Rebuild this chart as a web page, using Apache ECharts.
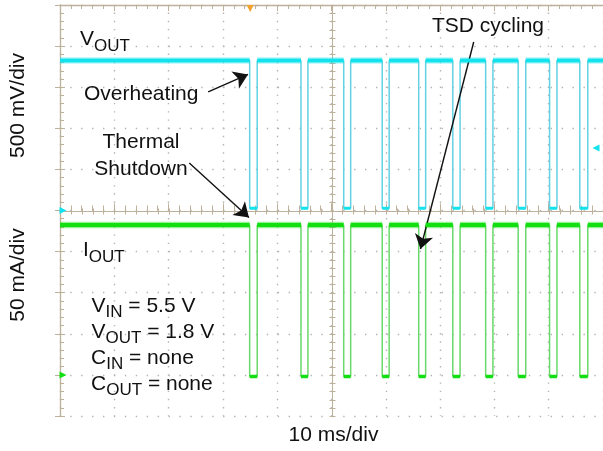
<!DOCTYPE html>
<html>
<head>
<meta charset="utf-8">
<script src="https://cdn.jsdelivr.net/npm/echarts@6/dist/echarts.min.js"></script>
<style>
  html, body { margin: 0; padding: 0; background: #ffffff; }
  #chart { width: 603px; height: 451px; }
</style>
</head>
<body>
<div id="chart"></div>
<script>
// ---- Screen scales -------------------------------------------------------
// 10 horizontal divisions of 10 ms, 10 vertical divisions.
// Channel 1 (V_OUT): 500 mV/div, ground at the centre line.
// Channel 2 (I_OUT): 50 mA/div, ground four divisions below the centre.
const timeRangeMs = [0, 100];
const voutRangeV = [-2.5, 2.5];
const ioutRangeMA = [-50, 450];

// ---- Thermal shutdown cycling: edge times (ms) ---------------------------
const fallMs = [34.93, 44.38, 52.25, 59.34, 66.06, 72.34, 78.39, 84.38, 90.16, 95.73];
const riseMs = [36.32, 45.66, 53.53, 60.62, 67.34, 73.68, 79.73, 85.77, 91.52, 97.20];

// ---- Output levels: [regulating, shut down] -------------------------------
const voutLevelsV = [1.825, 0.027];
const ioutLevelsMA = [182.4, -2];

// ---- Scope markers --------------------------------------------------------
const triggerTimeMs = [35.02];
const triggerLevelV = [0.76];

const FONT = "'Liberation Sans', Arial, Helvetica, sans-serif";
const FRAME = '#bdb19c';
const DOT = '#b4b4b4';
const CYAN = '#12e2ec';
const CYAN_EDGE = '#62d2e3';
const GREEN = '#12df12';
const GREEN_EDGE = '#6ad86a';

// full step path (thin edges)
function stepTrace(levels) {
  const [hi, lo] = levels;
  const pts = [[timeRangeMs[0], hi]];
  fallMs.forEach((f, i) => {
    pts.push([f, hi], [f, lo], [riseMs[i], lo], [riseMs[i], hi]);
  });
  pts.push([timeRangeMs[1], hi]);
  return pts;
}
// regulating plateaus only, broken by nulls
function highPlateaus(levels) {
  const hi = levels[0];
  const starts = [timeRangeMs[0]].concat(riseMs);
  const ends = fallMs.concat([timeRangeMs[1]]);
  const pts = [];
  starts.forEach((s, i) => {
    pts.push([s, hi], [ends[i], hi], [ends[i], null]);
  });
  return pts;
}
// shut-down plateaus only
function lowPlateaus(levels) {
  const lo = levels[1];
  const pts = [];
  fallMs.forEach((f, i) => {
    pts.push([f, lo], [riseMs[i], lo], [riseMs[i], null]);
  });
  return pts;
}

// centre cross with its minor ticks
function renderCross(params, api) {
  const children = [];
  const st = { stroke: FRAME, lineWidth: 1 };
  const l = api.coord([timeRangeMs[0], 0]);
  const r = api.coord([timeRangeMs[1], 0]);
  const t = api.coord([50, voutRangeV[1]]);
  const b = api.coord([50, voutRangeV[0]]);
  const yc = Math.round(l[1]) + 0.5;
  const xc = Math.round(t[0]) + 0.5;
  children.push({ type: 'line', shape: { x1: l[0], y1: yc, x2: r[0], y2: yc }, style: st });
  children.push({ type: 'line', shape: { x1: xc, y1: t[1], x2: xc, y2: b[1] }, style: st });
  for (let ms = 0; ms <= 100; ms += 2) {
    const p = api.coord([ms, 0]);
    const x = Math.round(p[0]) + 0.5;
    children.push({ type: 'line', shape: { x1: x, y1: yc - 3, x2: x, y2: yc + 3 }, style: st });
  }
  for (let k = -25; k <= 25; k++) {
    const p = api.coord([50, k * 0.1]);
    const y = Math.round(p[1]) + 0.5;
    children.push({ type: 'line', shape: { x1: xc - 3, y1: y, x2: xc + 3, y2: y }, style: st });
  }
  return { type: 'group', children };
}

// text helpers (main glyphs 21px, subscripts 17px)
const measureCtx = document.createElement('canvas').getContext('2d');
function textWidth(str, size) {
  measureCtx.font = size + 'px ' + FONT;
  return measureCtx.measureText(str).width;
}
function txt(str, x, y, size, align, rot) {
  return {
    type: 'text', x: x, y: y, rotation: rot || 0, z: 100, silent: true,
    style: {
      text: str, fill: '#111111', font: size + 'px ' + FONT,
      align: align || 'left', verticalAlign: 'middle',
      textAlign: align || 'left', textVerticalAlign: 'middle'
    }
  };
}
// parts: strings; those wrapped in [] are subscripts
function richLabel(x, y, parts) {
  const els = [];
  let cx = x;
  parts.forEach(p => {
    const isSub = Array.isArray(p);
    const s = isSub ? p[0] : p;
    const size = isSub ? 17 : 21;
    els.push(txt(s, cx, isSub ? y + 6.4 : y, size, 'left'));
    cx += textWidth(s, size);
  });
  return els;
}

const graphics = [].concat(
  richLabel(80, 39.5, ['V', ['OUT']]),
  [txt('Overheating', 84, 94.5, 21)],
  [txt('Thermal', 141, 142.5, 21, 'center')],
  [txt('Shutdown', 141, 169, 21, 'center')],
  [txt('TSD cycling', 432, 26, 21)],
  richLabel(83, 250.5, ['I', ['OUT']]),
  richLabel(91.5, 306.2, ['V', ['IN'], ' = 5.5 V']),
  richLabel(91.5, 332, ['V', ['OUT'], ' = 1.8 V']),
  richLabel(91, 358.2, ['C', ['IN'], ' = none']),
  richLabel(91, 384.2, ['C', ['OUT'], ' = none']),
  [txt('500 mV/div', 18.5, 105.5, 21, 'center', Math.PI / 2)],
  [txt('50 mA/div', 18.5, 275, 21, 'center', Math.PI / 2)],
  [txt('10 ms/div', 333.5, 435.5, 21, 'center')]
);

const chart = echarts.init(document.getElementById('chart'), null, { renderer: 'canvas' });

const baseX = {
  type: 'value', min: timeRangeMs[0], max: timeRangeMs[1], interval: 10,
  axisLabel: { show: false }, splitLine: { show: false }
};

chart.setOption({
  animation: false,
  backgroundColor: '#ffffff',
  grid: { left: 60, top: 5, width: 546, height: 411, containLabel: false },
  xAxis: [
    Object.assign({}, baseX, {
      position: 'bottom',
      axisLine: { show: false },
      axisTick: { show: true, inside: true, length: 7, lineStyle: { color: FRAME } },
      minorTick: { show: true, splitNumber: 5, length: 5, lineStyle: { color: FRAME } },
      splitLine: { show: true, lineStyle: { color: DOT, width: 1.4, type: [1.4, 6.82], dashOffset: 0.7 } }
    }),
    Object.assign({}, baseX, {
      position: 'top',
      axisLine: { show: true, onZero: false, lineStyle: { color: FRAME, width: 1.3 } },
      axisTick: { show: true, inside: true, length: 6, lineStyle: { color: FRAME } },
      minorTick: { show: true, splitNumber: 5, length: 4, lineStyle: { color: FRAME } }
    })
  ],
  yAxis: [
    {
      type: 'value', min: voutRangeV[0], max: voutRangeV[1], interval: 0.5, position: 'left',
      axisLabel: { show: false },
      axisLine: { show: true, onZero: false, lineStyle: { color: FRAME, width: 1.3 } },
      axisTick: { show: true, inside: true, length: 5, lineStyle: { color: FRAME } },
      minorTick: { show: true, splitNumber: 5, length: 4, lineStyle: { color: FRAME } },
      splitLine: { show: true, lineStyle: { color: DOT, width: 1.4, type: [1.4, 9.52], dashOffset: 0.7 } }
    },
    {
      type: 'value', min: ioutRangeMA[0], max: ioutRangeMA[1], interval: 50, position: 'right',
      axisLabel: { show: false },
      axisLine: { show: false },
      axisTick: { show: true, inside: true, length: 5, lineStyle: { color: FRAME } },
      splitLine: { show: false }
    }
  ],
  graphic: graphics,
  series: [
    {
      name: 'cross', type: 'custom', xAxisIndex: 0, yAxisIndex: 0, silent: true, z: 1,
      renderItem: renderCross, data: [[50, 0]]
    },
    // ---- channel 1: V_OUT ----
    {
      name: 'VOUT edges', type: 'line', xAxisIndex: 0, yAxisIndex: 0, silent: true, z: 3,
      showSymbol: false, data: stepTrace(voutLevelsV),
      lineStyle: { color: CYAN_EDGE, width: 1.5 },
      markPoint: {
        silent: true, label: { show: false },
        data: [
          { coord: [timeRangeMs[0], 0], symbol: 'triangle', symbolRotate: -90, symbolSize: [7, 7], symbolOffset: [3, 0], itemStyle: { color: CYAN } },
          { coord: [timeRangeMs[1], triggerLevelV[0]], symbol: 'triangle', symbolRotate: 90, symbolSize: [7, 7], symbolOffset: [-7, 0], itemStyle: { color: CYAN } },
          { coord: [triggerTimeMs[0], voutRangeV[1]], symbol: 'triangle', symbolRotate: 180, symbolSize: [7, 7], symbolOffset: [0, 3.5], itemStyle: { color: '#f2a22c' } }
        ]
      }
    },
    {
      name: 'VOUT haze', type: 'line', xAxisIndex: 0, yAxisIndex: 0, silent: true, z: 4,
      showSymbol: false, connectNulls: false, data: highPlateaus(voutLevelsV),
      lineStyle: { color: CYAN, width: 7, opacity: 0.25, cap: 'butt' }
    },
    {
      name: 'VOUT', type: 'line', xAxisIndex: 0, yAxisIndex: 0, silent: true, z: 5,
      showSymbol: false, connectNulls: false, data: highPlateaus(voutLevelsV),
      lineStyle: { color: CYAN, width: 4, cap: 'butt' }
    },
    {
      name: 'VOUT off', type: 'line', xAxisIndex: 0, yAxisIndex: 0, silent: true, z: 5,
      showSymbol: false, connectNulls: false, data: lowPlateaus(voutLevelsV),
      lineStyle: { color: CYAN, width: 3, cap: 'butt' }
    },
    // ---- channel 2: I_OUT ----
    {
      name: 'IOUT edges', type: 'line', xAxisIndex: 0, yAxisIndex: 1, silent: true, z: 3,
      showSymbol: false, data: stepTrace(ioutLevelsMA),
      lineStyle: { color: GREEN_EDGE, width: 1.5 },
      markPoint: {
        silent: true, label: { show: false },
        data: [
          { coord: [timeRangeMs[0], 0], symbol: 'triangle', symbolRotate: -90, symbolSize: [7, 7], symbolOffset: [3, 0], itemStyle: { color: GREEN } }
        ]
      }
    },
    {
      name: 'IOUT haze', type: 'line', xAxisIndex: 0, yAxisIndex: 1, silent: true, z: 4,
      showSymbol: false, connectNulls: false, data: highPlateaus(ioutLevelsMA),
      lineStyle: { color: GREEN, width: 7, opacity: 0.25, cap: 'butt' }
    },
    {
      name: 'IOUT', type: 'line', xAxisIndex: 0, yAxisIndex: 1, silent: true, z: 5,
      showSymbol: false, connectNulls: false, data: highPlateaus(ioutLevelsMA),
      lineStyle: { color: GREEN, width: 4.5, cap: 'butt' }
    },
    {
      name: 'IOUT off', type: 'line', xAxisIndex: 0, yAxisIndex: 1, silent: true, z: 5,
      showSymbol: false, connectNulls: false, data: lowPlateaus(ioutLevelsMA),
      lineStyle: { color: GREEN, width: 3.5, cap: 'butt' }
    },
    // ---- annotation arrows ----
    {
      name: 'arrows', type: 'line', xAxisIndex: 0, yAxisIndex: 0, silent: true, z: 20,
      data: [],
      markLine: {
        silent: true, animation: false,
        symbol: ['none', 'arrow'], symbolSize: 14,
        label: { show: false },
        lineStyle: { color: '#111111', width: 1.4, type: 'solid' },
        emphasis: { disabled: true },
        data: [
          [{ coord: [27.29, 1.442] }, { coord: [34.62, 1.655] }],
          [{ coord: [23.81, 0.578] }, { coord: [34.80, -0.085] }],
          [{ coord: [76.19, 2.050] }, { coord: [66.39, -0.468] }]
        ]
      }
    }
  ]
});
</script>
</body>
</html>
